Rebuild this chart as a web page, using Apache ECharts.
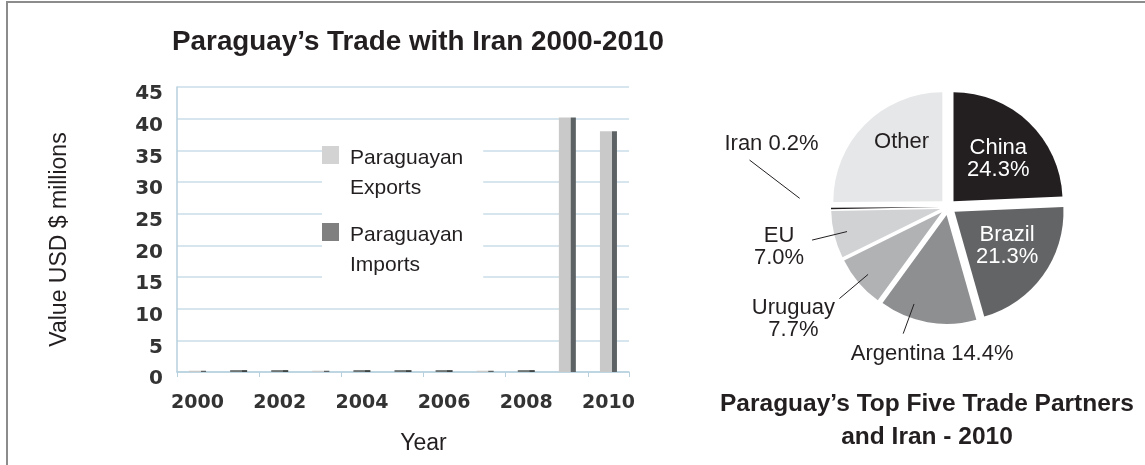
<!DOCTYPE html>
<html>
<head>
<meta charset="utf-8">
<script src="https://cdn.jsdelivr.net/npm/echarts@6/dist/echarts.min.js"></script>
<style>
html, body { margin: 0; padding: 0; background: #fff; }
#frame { position: absolute; left: 6px; top: 1px; width: 1139px; height: 464px; border-left: 2px solid #8c8c8c; border-top: 2px solid #8c8c8c; }
#chart { position: absolute; left: 0; top: 0; width: 1145px; height: 465px; }
</style>
</head>
<body>
<div id="frame"></div>
<div id="chart"></div>
<script>
// bar chart: trade with Iran, USD millions
const years = ['2000', '2001', '2002', '2003', '2004', '2005', '2006', '2007', '2008', '2009', '2010']
const exportsUsd = [0.2, 0, 0, 0.2, 0, 0, 0, 0.2, 0, 40.2, 38.0]
const importsUsd = [0, 0.3, 0.3, 0, 0.3, 0.3, 0.3, 0, 0.3, 0, 0]
const yMax = 45
const yStep = 5

// pie: top five partners + Iran, 2010 (%)
const partners = ['China', 'Brazil', 'Argentina', 'Uruguay', 'EU', 'Iran', 'Other']
const shares = [24.3, 21.3, 14.4, 7.7, 7.0, 0.2, 25.1]

const font = 'Liberation Sans, Arial, sans-serif'
const ink = '#231f20'
const sliceColors = ['#231f20', '#636466', '#8e8f91', '#b1b2b4', '#d1d2d4', '#231f20', '#e6e7e8']
const pieCenter = [948, 207]
const pieRadius = 109
const explode = 8

// label look per slice (style only)
const sliceLabel = {
    China: { position: 'inside', color: '#fff', sep: '\n' },
    Brazil: { position: 'inside', color: '#fff', sep: '\n' },
    Argentina: { position: 'outside', color: ink, sep: ' ' },
    Uruguay: { position: 'outside', color: ink, sep: '\n' },
    EU: { position: 'outside', color: ink, sep: '\n' },
    Iran: { position: 'outside', color: ink, sep: ' ' },
    Other: { position: 'inside', color: ink, sep: '' }
}
// small nudges for the inside labels
const insideNudge = { China: [5, -1], Brazil: [6, 1], Other: [0, -19] }
// leader lines: a/b = start/end radius (x r), t0/t1 = angle tilt (deg), dx/dy = label offset from line end
const leader = {
    Argentina: { a: 0.87, b: 1.16, t0: 10, t1: 10, dx: 29, dy: 20 },
    Uruguay: { a: 0.886, b: 1.23, t0: 0, t1: 0, dx: -46, dy: 20 },
    EU: { a: 0.88, b: 1.21, t0: 0, t1: 0, dx: -33, dy: 7 },
    Iran: { a: 1.29, b: 1.8, t0: 4.3, t1: 14.6, dx: 22, dy: -16 }
}

const total = shares.reduce((s, v) => s + v, 0)
const midDeg = shares.map((v, i) => 360 * (shares.slice(0, i).reduce((s, x) => s + x, 0) + v / 2) / total)

// point around the pie centre; the selected offset is added by echarts itself
const polar = (deg, rr) => {
    const d = deg * Math.PI / 180
    return [pieCenter[0] + Math.sin(d) * rr, pieCenter[1] - Math.cos(d) * rr]
}

// light face with a dark right side, like the old 3d bars
const bar3d = (face, side) => new echarts.graphic.LinearGradient(0, 0, 1, 0, [
    { offset: 0, color: face }, { offset: 0.68, color: face },
    { offset: 0.7, color: side }, { offset: 1, color: side }
])

const pieBase = {
    type: 'pie',
    center: pieCenter,
    radius: pieRadius,
    startAngle: 90,
    avoidLabelOverlap: false,
    minShowLabelAngle: 0,
    selectedMode: 'multiple',
    selectedOffset: explode,
    silent: true,
    emphasis: { disabled: true }
}

const chart = echarts.init(document.getElementById('chart'))

chart.setOption({
    animation: false,
    title: [
        {
            text: 'Paraguay’s Trade with Iran 2000-2010',
            left: 418, top: 28, textAlign: 'center', padding: 0,
            textStyle: { fontFamily: font, fontSize: 27.8, fontWeight: 'bold', color: ink }
        },
        {
            text: 'Paraguay’s Top Five Trade Partners\nand Iran - 2010',
            left: 927, top: 388, textAlign: 'center', padding: 0,
            textStyle: { fontFamily: font, fontSize: 24.5, fontWeight: 'bold', color: ink, lineHeight: 33 }
        }
    ],
    legend: {
        orient: 'vertical',
        left: 322, top: 143,
        padding: [0, 20, 0, 0],
        backgroundColor: '#fff',
        itemGap: 17,
        itemWidth: 23, itemHeight: 54,
        icon: 'path://M0,0h17v18h-17z M23,54',
        formatter: n => n.replace(' ', '\n'),
        textStyle: { fontFamily: font, fontSize: 21, lineHeight: 30, color: ink },
        data: [
            { name: 'Paraguayan Exports', itemStyle: { color: '#d3d3d3' } },
            { name: 'Paraguayan Imports', itemStyle: { color: '#808080' } }
        ]
    },
    grid: { left: 177, top: 87, width: 452, height: 285 },
    xAxis: {
        type: 'category',
        data: years,
        name: 'Year', nameLocation: 'middle', nameGap: 60,
        nameTextStyle: { fontFamily: font, fontSize: 23, color: ink, padding: [0, 0, 0, 41] },
        axisLine: { lineStyle: { color: '#b7d0de', width: 1.5 } },
        axisTick: { show: true, length: 5, lineStyle: { color: '#b7d0de' } },
        axisLabel: { interval: 1, margin: 22, fontFamily: 'DejaVu Sans', fontWeight: 'bold', fontSize: 19, color: '#333' }
    },
    yAxis: {
        type: 'value',
        min: 0, max: yMax, interval: yStep,
        name: 'Value USD $ millions', nameLocation: 'middle', nameGap: 106, nameRotate: 90,
        nameTextStyle: { fontFamily: font, fontSize: 23, color: ink, padding: [0, 20, 0, 0] },
        axisLine: { show: true, lineStyle: { color: '#b7d0de', width: 1.5 } },
        axisTick: { show: false },
        axisLabel: { margin: 14, verticalAlign: 'top', lineHeight: 14, fontFamily: 'DejaVu Sans', fontWeight: 'bold', fontSize: 20, color: '#333' },
        splitLine: { lineStyle: { color: '#c8dce8', width: 1.5 } }
    },
    series: [
        {
            name: 'Paraguayan Exports',
            type: 'bar',
            data: exportsUsd,
            barWidth: 17,
            barGap: '-100%',
            itemStyle: { color: bar3d('#c9c9c9', '#5d6364') }
        },
        {
            name: 'Paraguayan Imports',
            type: 'bar',
            data: importsUsd,
            barWidth: 17,
            itemStyle: { color: bar3d('#6f7474', '#3f4445') }
        },
        // the slices
        Object.assign({}, pieBase, {
            name: 'Partners 2010',
            z: 2,
            label: { show: false },
            labelLine: { show: false },
            data: partners.map((p, i) => ({
                name: p, value: shares[i], selected: true,
                itemStyle: { color: sliceColors[i] }
            }))
        }),
        // same slices, transparent, carrying the labels so leader lines sit on top
        Object.assign({}, pieBase, {
            name: 'Partners 2010 labels',
            z: 3,
            itemStyle: { color: 'rgba(0,0,0,0)' },
            labelLine: { length: 22, length2: 0, lineStyle: { color: ink, width: 1 } },
            labelLayout: params => {
                const i = params.dataIndex
                const p = partners[i]
                if (insideNudge[p]) return { dx: insideNudge[p][0], dy: insideNudge[p][1] }
                const L = leader[p]
                const s = polar(midDeg[i] + L.t0, pieRadius * L.a)
                const e = polar(midDeg[i] + L.t1, pieRadius * L.b)
                const r = params.labelRect
                const ax = params.align === 'right' ? r.x + r.width : params.align === 'left' ? r.x : r.x + r.width / 2
                const ay = r.y + r.height / 2
                return {
                    dx: e[0] + L.dx - ax, dy: e[1] + L.dy - ay,
                    align: 'center', verticalAlign: 'middle',
                    labelLinePoints: [s, e, e]
                }
            },
            data: partners.map((p, i) => ({
                name: p,
                value: shares[i],
                selected: true,
                label: {
                    show: true,
                    position: sliceLabel[p].position,
                    color: sliceLabel[p].color,
                    fontFamily: font, fontSize: 22, lineHeight: 22,
                    formatter: pm => p === 'Other' ? p : p + sliceLabel[p].sep + pm.value.toFixed(1) + '%'
                },
                labelLine: { show: sliceLabel[p].position === 'outside' }
            }))
        })
    ]
})
</script>
</body>
</html>
